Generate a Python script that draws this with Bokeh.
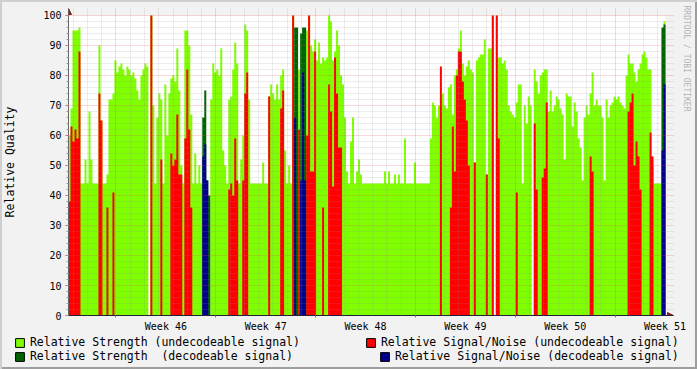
from bokeh.plotting import figure
from bokeh.layouts import column
from bokeh.models import (FixedTicker, Legend, LegendItem, Title, Arrow, NormalHead, Range1d)
from bokeh.embed import file_html
from bokeh.resources import INLINE

# ---------------- data (one sample every 0.14 day) ----------------
sample_days = 0.14
week_labels = ["Week 46", "Week 47", "Week 48", "Week 49", "Week 50", "Week 51"]
week_label_days = [6.83, 13.83, 20.83, 27.83, 34.83, 41.83]
week_start_days = [3.33, 10.33, 17.33, 24.33, 31.33, 38.33]
day_start_days = [0.33 + k for k in range(42) if 0.33 + k < 41.86]

strength_undec = [
    60, 69, 95, 95, 95, 96, 44, 44, 52, 44,
    68, 52, 44, 44, 44, 90, 65, 44, 44, 47,
    72, 72, 74, 85, 81, 83, 84, 82, 80, 83,
    82, 80, 81, 79, 75, 72, 80, 82, 84, 83,
    0, 100, 70, 44, 66, 74, 72, 44, 77, 60,
    74, 79, 80, 78, 89, 75, 50, 44, 95, 95,
    90, 67, 44, 54, 44, 50, 44, 0, 0, 0,
    0, 72, 84, 81, 82, 80, 89, 55, 50, 44,
    72, 73, 82, 91, 84, 44, 52, 60, 97, 95,
    72, 44, 44, 44, 44, 44, 44, 51, 44, 44,
    73, 77, 74, 72, 77, 72, 80, 82, 55, 44,
    50, 44, 100, 0, 0, 82, 0, 0, 0, 95,
    100, 90, 88, 92, 85, 91, 84, 86, 85, 86,
    100, 98, 85, 88, 95, 90, 80, 77, 66, 48,
    44, 58, 66, 44, 48, 52, 47, 44, 44, 44,
    44, 44, 44, 44, 44, 44, 44, 44, 48, 44,
    48, 44, 44, 47, 44, 47, 44, 44, 59, 44,
    44, 44, 44, 51, 44, 44, 44, 44, 44, 44,
    44, 59, 71, 70, 66, 70, 70, 74, 70, 69,
    76, 77, 67, 80, 82, 89, 95, 84, 80, 83,
    85, 82, 81, 51, 85, 86, 87, 87, 92, 47,
    89, 89, 100, 0, 100, 86, 86, 84, 85, 82,
    70, 68, 67, 66, 71, 77, 77, 44, 70, 64,
    73, 70, 0, 82, 78, 74, 80, 81, 82, 82,
    68, 75, 68, 70, 73, 72, 69, 67, 52, 74,
    73, 73, 63, 71, 68, 59, 56, 45, 66, 70,
    67, 74, 81, 70, 72, 70, 70, 66, 45, 72,
    66, 70, 71, 73, 72, 73, 71, 70, 69, 80,
    87, 84, 84, 81, 78, 82, 84, 87, 88, 86,
    82, 82, 50, 44, 44, 44, 44, 95, 98,
]

snr_undec = [
    38, 63, 58, 62, 59, 88, 0, 0, 0, 0,
    0, 0, 0, 0, 0, 74, 65, 0, 0, 36,
    0, 0, 41, 0, 0, 0, 0, 0, 0, 0,
    0, 0, 0, 0, 0, 0, 0, 0, 0, 0,
    0, 100, 0, 0, 0, 0, 52, 0, 0, 0,
    0, 54, 50, 52, 67, 47, 47, 0, 59, 82,
    62, 36, 0, 0, 0, 0, 0, 0, 0, 0,
    0, 0, 0, 0, 0, 0, 0, 0, 0, 0,
    42, 44, 40, 59, 45, 0, 0, 45, 74, 81,
    0, 0, 0, 0, 0, 0, 0, 0, 0, 0,
    73, 0, 0, 0, 0, 0, 69, 75, 0, 0,
    0, 0, 100, 0, 0, 62, 0, 0, 0, 60,
    100, 48, 48, 88, 0, 0, 0, 36, 0, 0,
    77, 68, 43, 86, 74, 56, 56, 0, 0, 0,
    0, 0, 0, 0, 0, 0, 0, 0, 0, 0,
    0, 0, 0, 0, 0, 0, 0, 0, 0, 0,
    0, 0, 0, 0, 0, 0, 0, 0, 0, 0,
    0, 0, 0, 0, 0, 0, 0, 0, 0, 0,
    0, 0, 0, 0, 0, 0, 83, 0, 0, 0,
    0, 36, 63, 48, 80, 88, 88, 78, 72, 65,
    50, 0, 0, 51, 0, 0, 0, 0, 0, 47,
    0, 0, 100, 0, 100, 59, 0, 0, 0, 0,
    0, 0, 0, 0, 41, 0, 0, 0, 0, 0,
    0, 0, 0, 64, 42, 0, 0, 46, 49, 71,
    0, 0, 0, 0, 0, 0, 0, 0, 0, 0,
    0, 0, 0, 0, 0, 0, 0, 0, 0, 0,
    0, 53, 48, 0, 0, 0, 0, 0, 0, 0,
    0, 0, 0, 0, 0, 0, 0, 0, 0, 0,
    68, 71, 74, 50, 58, 53, 42, 0, 0, 0,
    0, 61, 53, 0, 0, 0, 0, 0, 0,
]

# decodeable samples: sample index, strength, signal/noise
dec_index = [67, 68, 69, 70, 113, 114, 116, 117, 118, 297, 298]
dec_strength = [66, 75, 45, 40, 96, 96, 94, 96, 96, 96, 97]
dec_snr = [53, 57, 45, 0, 66, 0, 45, 81, 45, 55, 77]

n = len(strength_undec)
assert n == len(snr_undec) == 299, (len(strength_undec), len(snr_undec))
strength_dec = [0] * n
snr_dec = [0] * n
for i, sv, rv in zip(dec_index, dec_strength, dec_snr):
    strength_dec[i] = sv
    snr_dec[i] = rv
t_end = sample_days * n


def step_xy(vals):
    """Step outline of one series (each sample holds its value for one sample period)."""
    xs, ys = [], []
    for i, v in enumerate(vals):
        xs += [sample_days * i, sample_days * (i + 1)]
        ys += [v, v]
    return xs, ys


# ---------------- styles ----------------
FONT = "DejaVu Sans Mono"
C_GREEN, C_RED, C_DGREEN, C_BLUE = "#7FFF00", "#FF0000", "#006400", "#00008C"
BG = "#f2f2f2"
ARROW = "#801f1f"
AXIS = "#1f1f3a"
MGRID = "#de4f4f"

# ---------------- main chart ----------------
x1, y1 = 42.42, 102.3333
p = figure(width=697, height=335, output_backend="svg", toolbar_location=None,
           x_range=Range1d(0, x1), y_range=Range1d(0, y1),
           min_border_left=67, min_border_right=24, min_border_top=8, min_border_bottom=20,
           background_fill_alpha=0, border_fill_alpha=0, outline_line_color=None)

# white canvas behind the data
p.quad(left=[0], right=[t_end], bottom=[0], top=[100], fill_color="white", line_color=None)

for vals, color in ((strength_undec, C_GREEN), (snr_undec, C_RED),
                    (strength_dec, C_DGREEN), (snr_dec, C_BLUE)):
    xs, ys = step_xy(vals)
    p.varea(x=xs, y1=0, y2=ys, fill_color=color, fill_alpha=1.0)

# grids (drawn over the data like rrdtool)
p.xgrid.ticker = FixedTicker(ticks=week_start_days,
                             minor_ticks=[d for d in day_start_days if all(abs(d - w) > 0.01 for w in week_start_days)])
p.ygrid.ticker = FixedTicker(ticks=list(range(10, 101, 10)),
                             minor_ticks=[v for v in range(2, 100, 2) if v % 10])
for g in (p.xgrid, p.ygrid):
    g.level = "annotation"
    g.grid_line_color = MGRID
    g.grid_line_alpha = 0.45
    g.grid_line_dash = "1 1"
    g.minor_grid_line_color = "#8f8f8f"
    g.minor_grid_line_alpha = 0.32
    g.minor_grid_line_dash = "1 1"

p.xaxis.ticker = FixedTicker(ticks=week_label_days, minor_ticks=week_start_days)
p.xaxis.major_label_overrides = {d: lab for d, lab in zip(week_label_days, week_labels)}
p.xaxis.major_tick_out = 0
p.xaxis.major_tick_in = 0
p.xaxis.minor_tick_out = 2
p.xaxis.minor_tick_in = 0
p.xaxis.minor_tick_line_color = MGRID
p.xaxis.major_label_standoff = 3
p.xaxis.axis_line_color = AXIS

p.yaxis.ticker = FixedTicker(ticks=list(range(0, 101, 10)), minor_ticks=list(range(0, 101, 2)))
p.yaxis.major_tick_out = 3
p.yaxis.major_tick_in = 0
p.yaxis.minor_tick_out = 2
p.yaxis.minor_tick_in = 0
p.yaxis.major_tick_line_color = MGRID
p.yaxis.minor_tick_line_color = "#9a9a9a"
p.yaxis.major_label_standoff = 4
p.yaxis.axis_line_color = "#666666"
p.yaxis.axis_label = "Relative Quality"
p.yaxis.axis_label_standoff = 23

for ax in (p.xaxis, p.yaxis):
    ax.major_label_text_font = FONT
    ax.major_label_text_font_size = "10px"
    ax.major_label_text_color = "black"
    ax.axis_label_text_font = FONT
    ax.axis_label_text_font_size = "11.5px"
    ax.axis_label_text_font_style = "normal"
    ax.axis_label_text_color = "black"

# arrows at axis ends
p.add_layout(Arrow(end=NormalHead(size=6, fill_color=ARROW, line_color=ARROW),
                   x_start=0, y_start=100, x_end=0, y_end=y1, line_color="#666666", line_width=1))
p.add_layout(Arrow(end=NormalHead(size=6, fill_color=ARROW, line_color=ARROW),
                   x_start=t_end, y_start=0, x_end=x1, y_end=0, line_color=AXIS, line_width=1))

# watermark on the right edge
p.add_layout(Title(text="RRDTOOL / TOBI OETIKER", align="left", vertical_align="top",
                   offset=-3, standoff=13, text_font=FONT, text_font_size="8px",
                   text_font_style="normal", text_color="#b4b4b4"), "right")

# ---------------- legend strip ----------------
q = figure(width=697, height=34, output_backend="svg", toolbar_location=None,
           x_range=Range1d(0, 697), y_range=Range1d(0, 34),
           x_axis_type=None, y_axis_type=None,
           min_border_left=0, min_border_right=0, min_border_top=0, min_border_bottom=0,
           background_fill_alpha=0, border_fill_alpha=0, outline_line_color=None)
q.xgrid.visible = False
q.ygrid.visible = False
for fig in (p, q):
    if "frame_align" in fig.properties():
        fig.frame_align = False


def swatch(color):
    # one off-screen box so that the legend has a glyph to draw
    return q.quad(left=[-30], right=[-20], top=[-20], bottom=[-30],
                  fill_color=color, line_color="black", line_width=1)


sw_g, sw_r, sw_dg, sw_b = swatch(C_GREEN), swatch(C_RED), swatch(C_DGREEN), swatch(C_BLUE)


def make_legend(items, loc):
    lg = Legend(items=items, location=loc, orientation="vertical",
                padding=0, margin=0, spacing=0, glyph_width=11, glyph_height=11,
                label_standoff=5, label_height=14,
                label_text_font=FONT, label_text_font_size="11.5px", label_text_color="black",
                background_fill_alpha=0, border_line_color=None)
    q.add_layout(lg)


make_legend([LegendItem(label="Relative Strength (undecodeable signal)", renderers=[sw_g]),
             LegendItem(label="Relative Strength  (decodeable signal)", renderers=[sw_dg])], (13.9, 6))
make_legend([LegendItem(label="Relative Signal/Noise (undecodeable signal)", renderers=[sw_r])], (364.9, 20))
make_legend([LegendItem(label="Relative Signal/Noise (decodeable signal)", renderers=[sw_b])], (378.9, 6))

page = column(p, q, spacing=0)
page.styles = {"background-color": BG,
               "box-shadow": "inset 2px 2px 0 0 #cfcfcf, inset -2px -2px 0 0 #9e9e9e"}

open("out.html", "w").write(file_html(page, INLINE))
